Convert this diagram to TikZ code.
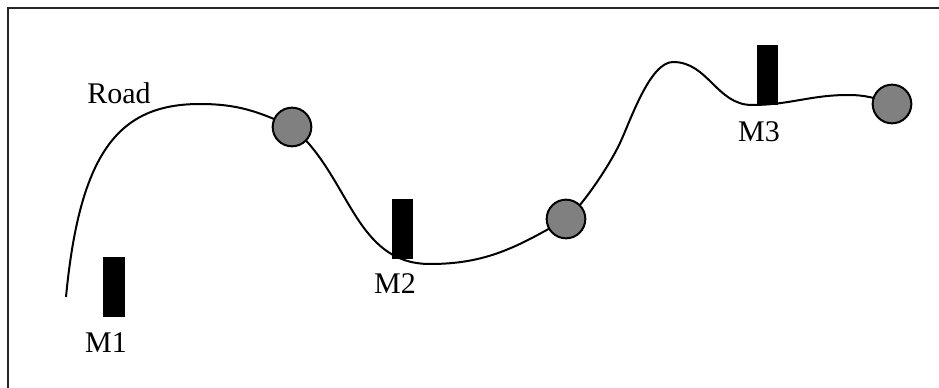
\documentclass[tikz,border=0pt]{standalone}
\usepackage{fontspec}
\setmainfont{Liberation Serif}
\begin{document}
\begin{tikzpicture}[x=0.75pt,y=-0.75pt,
  road/.style={line width=1.5pt, line join=round},
  stop/.style={circle, draw=black, line width=1.5pt, fill=black!50, minimum size=29pt, inner sep=0pt},
  marker/.style={rectangle, fill=black, draw=none, minimum width=16pt, minimum height=45pt, inner sep=0pt},
  lbl/.style={font=\fontsize{22.5}{27}\selectfont, inner sep=0pt}]
\useasboundingbox (0,0) rectangle (939,388);
\draw[line width=1.6pt, black!85] (8,388) -- (8,8) -- (939,8);
% road path points
\coordinate (s) at (66,297);
\coordinate (p1) at (200,104);
\coordinate (c1pos) at (292,127);
\coordinate (p2) at (430,264);
\coordinate (c2pos) at (566,219);
\coordinate (p3a) at (620,143);
\coordinate (p3) at (673,62);
\coordinate (p4) at (752,105);
\coordinate (q) at (848,95);
\coordinate (c3pos) at (892,104);
\draw[road] (s) .. controls (80,150) and (120,104) .. (p1)
  to[out=0,in=155] (c1pos)
  to[out=-40,in=180] (p2)
  to[out=0,in=210] (c2pos)
  .. controls (581,208) and (609.4,165.7) .. (p3a)
  .. controls (630.6,120.3) and (650,62) .. (p3)
  to[out=0,in=180] (p4)
  to[out=0,in=180] (q)
  to[out=0,in=160] (c3pos);
% stops
\node[stop] (c1) at (c1pos) {};
\node[stop] (c2) at (c2pos) {};
\node[stop] (c3) at (c3pos) {};
% markers
\node[marker] (m1) at (114,287) {};
\node[marker] (m2) at (402.5,229) {};
\node[marker] (m3) at (767.5,75.5) {};
% labels
\node[lbl] (road) at (119,93) {Road};
\node[lbl] (l1) at (106,343) {M1};
\node[lbl] (l2) at (395,284) {M2};
\node[lbl] (l3) at (759,132) {M3};
\end{tikzpicture}
\end{document}
